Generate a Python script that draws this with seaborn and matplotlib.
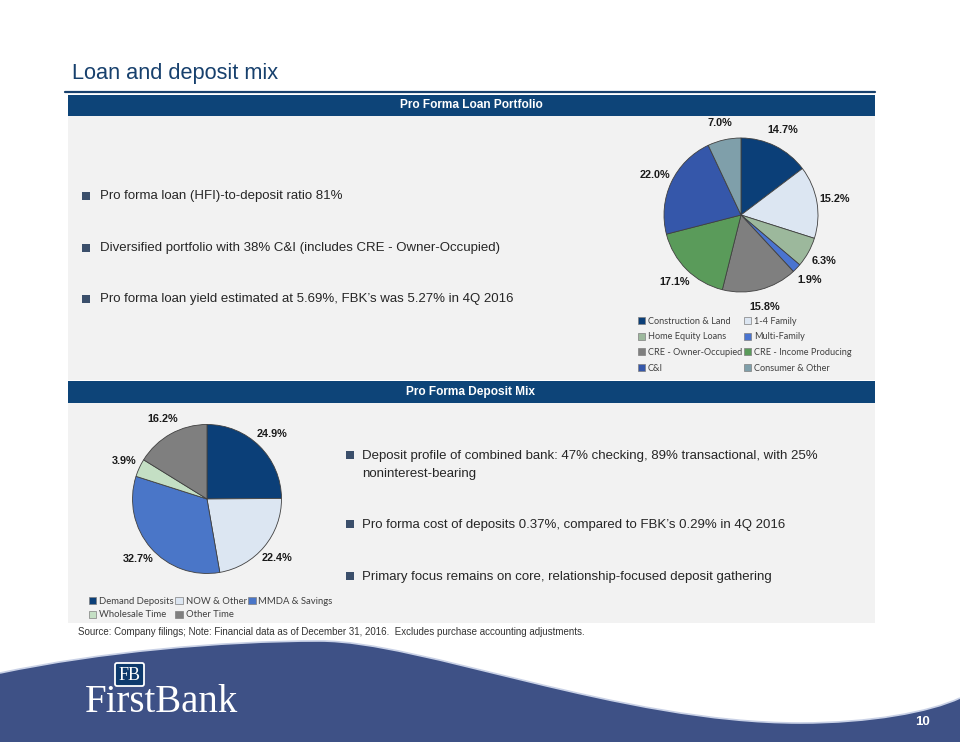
import matplotlib
matplotlib.use("Agg")
import matplotlib.pyplot as plt
import seaborn as sns
from matplotlib.patches import Rectangle, Patch, FancyBboxPatch, PathPatch
from matplotlib.path import Path

# loan portfolio mix (%)
loan_labels = ["Construction & Land", "1-4 Family", "Home Equity Loans", "Multi-Family",
               "CRE - Owner-Occupied", "CRE - Income Producing", "C&I", "Consumer & Other"]
loan_values = [14.7, 15.2, 6.3, 1.9, 15.8, 17.1, 22.0, 7.0]
loan_colors = ["#0B3F78", "#DCE6F2", "#9CB89C", "#4A74D0", "#7F7F7F", "#5A9B5A", "#3557AA", "#7F9FAA"]

# deposit mix (%)
dep_labels = ["Demand Deposits", "NOW & Other", "MMDA & Savings", "Wholesale Time", "Other Time"]
dep_values = [24.9, 22.4, 32.7, 3.9, 16.2]
dep_colors = ["#0B3F78", "#DCE6F2", "#4A76C8", "#C4DFC4", "#7F7F7F"]

loan_bullets = ["Pro forma loan (HFI)-to-deposit ratio 81%",
                "Diversified portfolio with 38% C&I (includes CRE - Owner-Occupied)",
                "Pro forma loan yield estimated at 5.69%, FBK\u2019s was 5.27% in 4Q 2016"]
dep_bullets = ["Deposit profile of combined bank: 47% checking, 89% transactional, with 25%\nnoninterest-bearing",
               "Pro forma cost of deposits 0.37%, compared to FBK\u2019s 0.29% in 4Q 2016",
               "Primary focus remains on core, relationship-focused deposit gathering"]

sns.set_theme(style="white")
plt.rcParams["font.family"] = ["Liberation Sans", "DejaVu Sans"]

W, H = 960, 742
navy = "#0D4478"
fig = plt.figure(figsize=(9.6, 7.42), dpi=100)
bg = fig.add_axes([0, 0, 1, 1])
bg.set_xlim(0, W)
bg.set_ylim(H, 0)
bg.axis("off")

# title + rule
bg.text(72, 73, "Loan and deposit mix", fontsize=15.7, color="#17406D", va="center", ha="left")
bg.plot([65, 875], [92, 92], color="#17406D", lw=1.6)

# section bars and panels
for top, bot, title in [(95, 116, "Pro Forma Loan Portfolio"), (381, 403, "Pro Forma Deposit Mix")]:
    bg.add_patch(Rectangle((68, top), 807, bot - top, facecolor=navy, edgecolor="none"))
    bg.text(471, (top + bot) / 2, title, color="white", fontsize=8.6, fontweight="bold",
            ha="center", va="center")
bg.add_patch(Rectangle((68, 116), 807, 264, facecolor="#F2F2F2", edgecolor="none"))
bg.add_patch(Rectangle((68, 403), 807, 220, facecolor="#F2F2F2", edgecolor="none"))

# bullets
bullet_color = "#3B4F6B"
text_color = "#262626"
for y, txt in zip([196, 248, 299], loan_bullets):
    bg.add_patch(Rectangle((82, y - 4), 8, 8, facecolor=bullet_color, edgecolor="none"))
    bg.text(100, y, txt, fontsize=9.5, color=text_color, va="center", ha="left")
for y, txt in zip([455, 524, 576], dep_bullets):
    bg.add_patch(Rectangle((346, y - 4), 8, 8, facecolor=bullet_color, edgecolor="none"))
    bg.text(362, y - 5, txt, fontsize=9.5, color=text_color, va="top", ha="left",
            linespacing=1.68)

bg.text(78, 632, "Source: Company filings; Note: Financial data as of December 31, 2016.  "
        "Excludes purchase accounting adjustments.", fontsize=7, color="#333333",
        va="center", ha="left")

# footer wave
edge_pts = [(0, 673), (100, 652), (220, 641), (320, 641),
            (420, 641), (620, 723), (800, 723),
            (870, 723), (930, 712), (960, 698)]
edge_codes = [Path.MOVETO] + [Path.CURVE4] * 9
wave = Path(edge_pts + [(960, 742), (0, 742), (0, 673)],
            edge_codes + [Path.LINETO, Path.LINETO, Path.CLOSEPOLY])
bg.add_patch(PathPatch(wave, facecolor="#3E5186", edgecolor="none"))
bg.add_patch(PathPatch(Path(edge_pts, edge_codes), facecolor="none",
                       edgecolor="#C9D1E6", lw=1.2))

# logo
bg.add_patch(FancyBboxPatch((115, 663), 29, 23, boxstyle="round,pad=0,rounding_size=2",
                            facecolor="#0E3A6C", edgecolor="white", lw=1.3))
bg.text(129.5, 675, "FB", color="white", fontsize=13, family="Liberation Serif",
        ha="center", va="center")
bg.text(162, 712, "FirstBank", color="white", fontsize=28, family="Liberation Serif",
        ha="center", va="baseline")
bg.text(922, 722, "10", color="white", fontsize=9.5, fontweight="bold", ha="center", va="center")


def pie_axes(cx, cy, r, span=1.5):
    size = 2 * span * r
    ax = fig.add_axes([(cx - size / 2) / W, (H - cy - size / 2) / H, size / W, size / H])
    ax.set_facecolor("none")
    return ax


def draw_pie(ax, values, colors, dist):
    labels = [f"{v:.1f}%" for v in values]
    wedges, texts = ax.pie(values, colors=sns.color_palette(colors), startangle=90,
                           counterclock=False, labels=labels, labeldistance=dist,
                           wedgeprops=dict(edgecolor="#404040", linewidth=0.6),
                           textprops=dict(fontsize=7.8, fontweight="bold", color="#1A1A1A"))
    for t in texts:
        t.set_ha("center")
        t.set_va("center")
    ax.set_xlim(-1.5, 1.5)
    ax.set_ylim(-1.5, 1.5)
    ax.axis("off")


ax1 = pie_axes(741, 215, 77)
draw_pie(ax1, loan_values, loan_colors, 1.23)
ax2 = pie_axes(207, 499, 74.5)
draw_pie(ax2, dep_values, dep_colors, 1.23)

# legends (ordered so they read row by row)
def handles(labels, colors, order):
    return ([Patch(facecolor=colors[i], edgecolor="#7F7F7F", lw=0.5) for i in order],
            [labels[i] for i in order])

h, l = handles(loan_labels, loan_colors, [0, 2, 4, 6, 1, 3, 5, 7])
leg1 = bg.legend(h, l, loc="upper left", bbox_to_anchor=(633, 312), bbox_transform=bg.transData,
                 ncol=2, frameon=False, borderpad=0, handlelength=0.8,
                 handleheight=0.8, handletextpad=0.3, columnspacing=0.2, labelspacing=0.74,
                 prop={"family": "Lato", "size": 6.6})
for t in leg1.get_texts():
    t.set_color("#404040")

h, l = handles(dep_labels, dep_colors, [0, 3, 1, 4, 2])
leg2 = ax2.legend(h, l, loc="upper left", bbox_to_anchor=(84, 592), bbox_transform=bg.transData,
                  ncol=3, frameon=False, borderpad=0, handlelength=0.8,
                  handleheight=0.8, handletextpad=0.3, columnspacing=0.15, labelspacing=0.5,
                  prop={"family": "Lato", "size": 6.8})
for t in leg2.get_texts():
    t.set_color("#404040")

fig.savefig("out.png", dpi=100)
